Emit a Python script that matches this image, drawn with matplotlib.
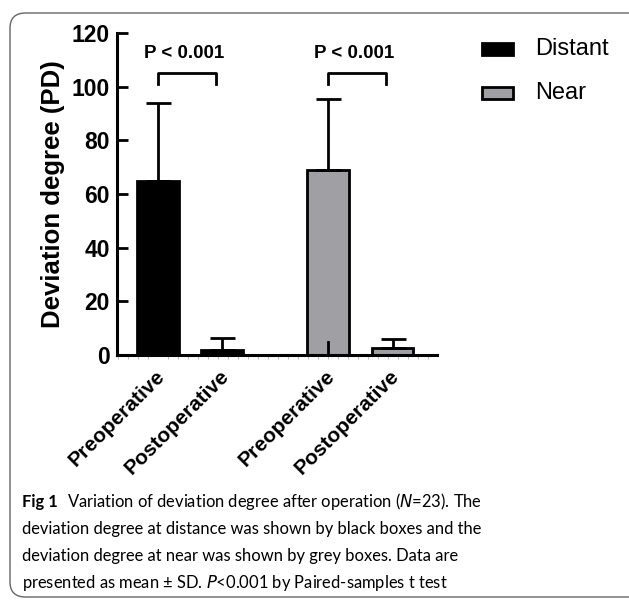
import matplotlib
matplotlib.use("Agg")
import matplotlib.pyplot as plt
from matplotlib.patches import FancyBboxPatch
from matplotlib.ticker import MultipleLocator
from matplotlib.transforms import ScaledTranslation
from matplotlib import font_manager

categories = ["Preoperative", "Postoperative", "Preoperative", "Postoperative"]
groups = ["Distant", "Distant", "Near", "Near"]
means = [65, 2, 69, 2.5]
sds = [29, 4.5, 26.5, 3.5]
positions = [0, 1, 2.64, 3.64]
colors = {"Distant": "#000000", "Near": "#a0a0a4"}
yticks = [0, 20, 40, 60, 80, 100, 120]
pvals = ["P < 0.001", "P < 0.001"]

names = {f.name for f in font_manager.fontManager.ttflist}
cap_font = "Lato" if "Lato" in names else "Open Sans"

W, H = 629, 601
fig = plt.figure(figsize=(W / 100, H / 100), dpi=100)
fig.patch.set_facecolor("white")

# rounded frame
frame = FancyBboxPatch((10 / W, 4 / H), 640 / W, 584 / H,
                       boxstyle="round,pad=0,rounding_size=0.025",
                       transform=fig.transFigure, fill=False,
                       edgecolor="#666666", linewidth=1.0, clip_on=False)
fig.patches.append(frame)

ax = fig.add_axes([117 / W, 1 - 355 / H, (437 - 117) / W, (355 - 33) / H])
bold = dict(family="Liberation Sans", weight="bold")

for i, (p, m, s, g) in enumerate(zip(positions, means, sds, groups)):
    ax.bar(p, m, width=0.65, color=colors[g], edgecolor="black", linewidth=2,
           zorder=2)
    ax.errorbar(p, m, yerr=[[0], [s]], fmt="none", ecolor="black",
                elinewidth=2, capsize=9, capthick=2, zorder=3)

# stray lower whisker visible inside near preoperative bar
ax.plot([positions[2], positions[2]], [0, 5], color="black", lw=2, zorder=3)

# significance brackets
for k, pv in enumerate(pvals):
    x1 = positions[2 * k]
    x2 = positions[2 * k + 1] - 0.1
    ax.plot([x1, x1, x2, x2], [101, 105, 105, 101], color="black", lw=2,
            clip_on=False, zorder=4)
    ax.text((x1 + x2) / 2 - 0.05, 112.5, pv, ha="center", va="center",
            fontsize=13.5, clip_on=False, **bold)

ax.set_xlim(-0.636, 4.33)
ax.set_ylim(0, 120)
ax.set_yticks(yticks)
ax.set_yticklabels([str(t) for t in yticks], fontsize=16.5, **bold)
ax.set_xticks(positions)
ax.set_xticklabels(categories, rotation=45, ha="right", rotation_mode="anchor",
                   fontsize=15, **bold)
ax.xaxis.set_minor_locator(MultipleLocator(0.155))
ax.tick_params(axis="x", which="major", length=0, pad=9)
ax.tick_params(axis="x", which="minor", length=3, width=0.8, color="#bbbbbb",
               direction="out")
ax.tick_params(axis="y", which="major", direction="in", length=8, width=2,
               pad=5)
off = ScaledTranslation(-3 / 100, 1 / 100, fig.dpi_scale_trans)
for lab in ax.get_xticklabels():
    lab.set_transform(lab.get_transform() + off)
for sp in ["top", "right"]:
    ax.spines[sp].set_visible(False)
for sp in ["left", "bottom"]:
    ax.spines[sp].set_linewidth(2.2)
ax.set_ylabel("Deviation degree (PD)", fontsize=18.5, labelpad=5, **bold)

# legend
for j, g in enumerate(["Distant", "Near"]):
    yy = 49 + j * 44
    fig.patches.append(plt.Rectangle((482 / W, 1 - (yy + 6) / H), 31 / W, 12 / H,
                                     transform=fig.transFigure,
                                     facecolor=colors[g], edgecolor="black",
                                     linewidth=2))
    fig.text(535 / W, 1 - yy / H, g, fontsize=17, family="Liberation Sans",
             va="center", ha="left")

# caption: fit the font size so the second line is ~449 px wide
y0 = 502
lines = ["deviation degree at distance was shown by black boxes and the",
         "deviation degree at near was shown by grey boxes. Data are"]
probe = fig.text(0, 0, lines[0], fontsize=14, family=cap_font)
fig.canvas.draw()
wpx = probe.get_window_extent().width
probe.remove()
fs = 14 * 449 / wpx * 1.03

t1 = fig.text(22 / W, 1 - y0 / H, "Fig 1", fontsize=fs, weight="bold",
              family=cap_font, va="center")
fig.canvas.draw()
bb = t1.get_window_extent()
fig.text((bb.x1 + 9) / W, 1 - y0 / H,
         "Variation of deviation degree after operation ($\\it{N}$=23). The",
         fontsize=fs, family=cap_font, va="center")
for k, ln in enumerate(lines):
    fig.text(22 / W, 1 - (y0 + 27 * (k + 1)) / H, ln, fontsize=fs,
             family=cap_font, va="center")
fig.text(22 / W, 1 - (y0 + 81) / H,
         "presented as mean ± SD. $\\it{P}$<0.001 by Paired-samples t test",
         fontsize=fs, family=cap_font, va="center")

fig.savefig("out.png", dpi=100, facecolor="white")
